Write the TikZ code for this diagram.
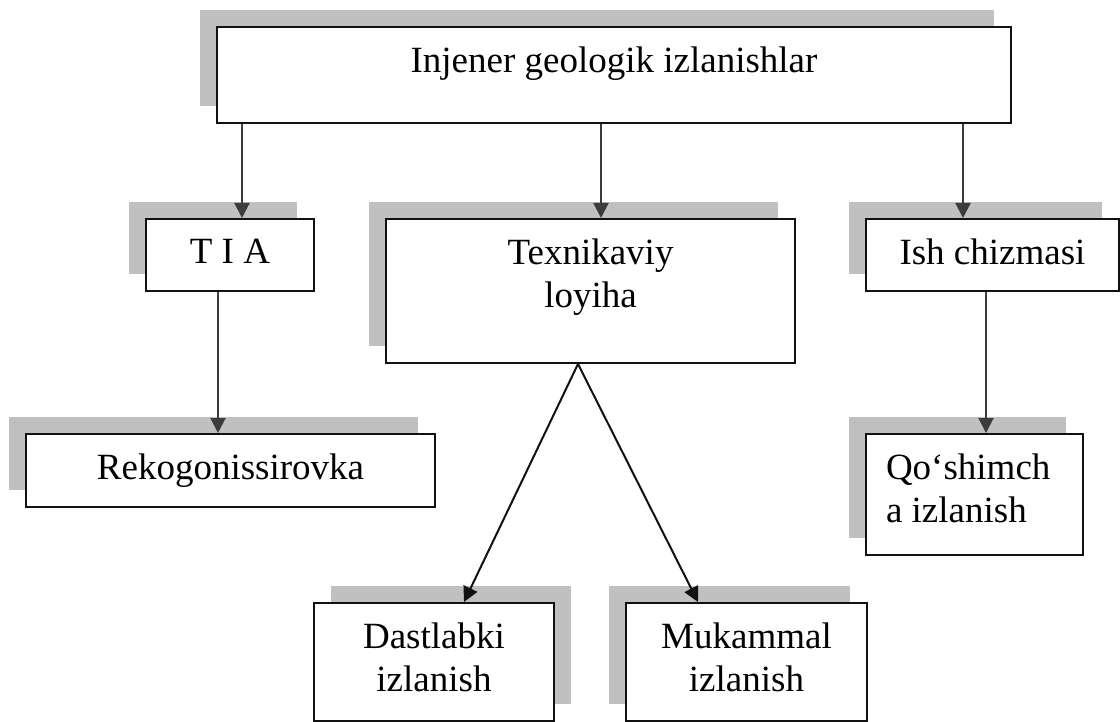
\documentclass[tikz,border=0pt]{standalone}
\usepackage{fontspec}
\setmainfont{Liberation Serif}
\usepackage{tikz}
\usetikzlibrary{arrows.meta,shadows}
\definecolor{shade}{HTML}{C0C0C0}
\definecolor{ink}{HTML}{111111}
\definecolor{tip}{HTML}{3C3C3C}
\tikzset{
  >={Triangle[length=15pt,width=15pt]},
  blk/.style={draw=ink,fill=white,line width=2pt,inner sep=0pt,anchor=north west,
    font=\fontsize{37}{43}\selectfont,
    general shadow={fill=shade,shadow xshift=-17pt,shadow yshift=17pt}},
  blkright/.style={draw=ink,fill=white,line width=2pt,inner sep=0pt,anchor=north west,
    font=\fontsize{37}{43}\selectfont,
    general shadow={fill=shade,shadow xshift=17pt,shadow yshift=17pt}},
  down/.style={->,line width=2pt,color=tip},
  slant/.style={->,line width=2pt,color=ink},
}
% box text: [alignment]{width}{height}{text}, set at the top of the box
\newcommand{\boxtext}[4][\centering]{\parbox[t][#3pt][t]{#2pt}{#1\vspace*{20pt}#4}}

\begin{document}
\begin{tikzpicture}[x=1pt,y=-1pt]
  \useasboundingbox (0,0) rectangle (1120,722);

  \node[blk] (top) at (216,26) {\boxtext{794}{96}{Injener geologik izlanishlar}};

  \node[blk] (tia) at (145,218) {\boxtext{168}{72}{T I A}};
  \node[blk] (tex) at (385,218) {\boxtext{409}{144}{Texnikaviy\\loyiha}};
  \node[blk] (ish) at (865,218) {\boxtext{253}{72}{Ish chizmasi}};

  \node[blk] (rek) at (25,433) {\boxtext{409}{73}{Rekogonissirovka}};
  \node[blk] (qosh) at (865,433)
    {\boxtext[\raggedright\leftskip=20pt]{217}{121}{Qo‘shimch\\a izlanish}};

  \node[blkright] (dast) at (313,602) {\boxtext{240}{118}{Dastlabki\\izlanish}};
  \node[blk] (muk) at (625,602) {\boxtext{241}{118}{Mukammal\\izlanish}};

  \draw[down] ([xshift=12pt]tia.north |- top.south) -- ([xshift=12pt]tia.north);
  \draw[down] ([xshift=10.5pt]tex.north |- top.south) -- ([xshift=10.5pt]tex.north);
  \draw[down] ([xshift=-29.5pt]ish.north |- top.south) -- ([xshift=-29.5pt]ish.north);
  \draw[down] ([xshift=-12pt]tia.south) -- ([xshift=-12pt]tia.south |- rek.north);
  \draw[down] ([xshift=-6.5pt]ish.south) -- ([xshift=-6.5pt]ish.south |- qosh.north);

  \draw[slant] ([xshift=-12.5pt]tex.south) -- ([xshift=30pt]dast.north);
  \draw[slant] ([xshift=-12.5pt]tex.south) -- ([xshift=-48.5pt]muk.north);
\end{tikzpicture}
\end{document}
